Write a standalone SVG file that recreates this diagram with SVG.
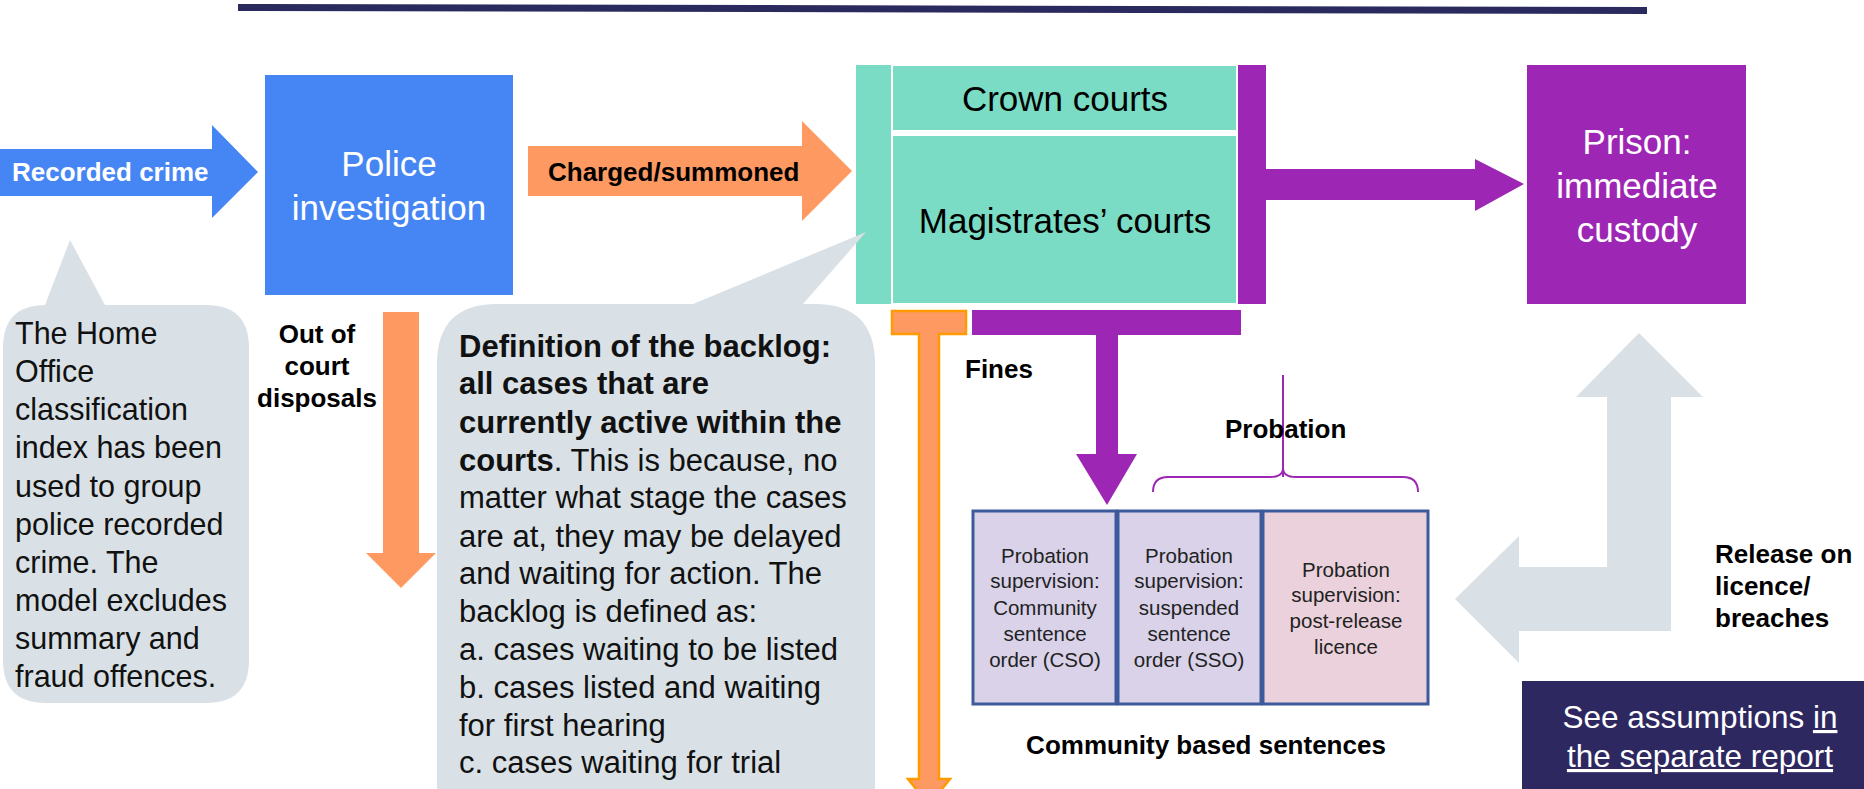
<svg xmlns="http://www.w3.org/2000/svg" width="1864" height="789" viewBox="0 0 1864 789">
<style>
text{font-family:"Liberation Sans",Arial,sans-serif;}
.b{font-weight:bold;font-size:26px;fill:#000;}
.big{font-size:35px;}
.w{fill:#fff;}
.note{font-size:30.5px;fill:#111;}
.bk{font-size:31px;fill:#111;}
.sm{font-size:20.5px;fill:#222;text-anchor:middle;}
.teal{fill:#7adcc4;}
.purple{fill:#9d27b4;}
.orange{fill:#fe9961;}
.grey{fill:#d9e1e6;}
.cbox{stroke:#3d5b9a;stroke-width:3;}
</style>
<rect width="1864" height="789" fill="#fff"/>
<polygon points="238,4 1647,7 1647,14 238,11" fill="#2b2a5f"/>

<g id="connectors">
  <g id="recorded-crime">
    <polygon points="0,149 212,149 212,125 258,172 212,218 212,196 0,196" fill="#4686f4"/>
    <text class="b w" x="12" y="181">Recorded crime</text>
  </g>
  <g id="charged">
    <polygon class="orange" points="528,146 802,146 802,121 852,171 802,221 802,196 528,196"/>
    <text class="b" x="548" y="181">Charged/summoned</text>
  </g>
  <g id="out-of-court">
    <polygon class="orange" points="383,312 419,312 419,553 436,553 401,588 366,553 383,553"/>
    <text class="b" text-anchor="middle" x="317" y="343">Out of</text>
    <text class="b" text-anchor="middle" x="317" y="375">court</text>
    <text class="b" text-anchor="middle" x="317" y="407">disposals</text>
  </g>
  <g id="fines">
    <polygon points="892,311 966,311 966,334 939,334 939,779 950,779 929,805 908,779 919,779 919,334 892,334 892,311" fill="#fe9961" stroke="#ff9a00" stroke-width="2.5"/>
    <text class="b" x="965" y="378">Fines</text>
  </g>
  <g id="to-community">
    <polygon class="purple" points="972,310 1241,310 1241,335 1118,335 1118,454 1137,454 1107,505 1076,454 1096,454 1096,335 972,335"/>
  </g>
  <g id="to-prison">
    <rect class="purple" x="1238" y="65" width="28" height="239"/>
    <polygon class="purple" points="1266,169 1475,169 1475,159 1524,184 1475,211 1475,200 1266,200"/>
  </g>
  <g id="release">
    <polygon class="grey" points="1639,333 1703,397 1671,397 1671,631 1519,631 1519,663 1455,599 1519,536 1519,567 1607,567 1607,397 1576,397"/>
    <text class="b" x="1715" y="563">Release on</text>
    <text class="b" x="1715" y="595">licence/</text>
    <text class="b" x="1715" y="627">breaches</text>
  </g>
  <g id="probation-brace">
    <path d="M1283,375 V477 M1153,492 Q1153,477 1168,477 L1270,477 Q1283,477 1283,468 Q1283,477 1296,477 L1403,477 Q1418,477 1418,492" fill="none" stroke="#9d27b4" stroke-width="2"/>
    <text class="b" x="1225" y="438">Probation</text>
  </g>
</g>

<g id="police">
  <rect x="265" y="75" width="248" height="220" fill="#4686f4"/>
  <text class="big w" text-anchor="middle" x="389" y="176">Police</text>
  <text class="big w" text-anchor="middle" x="389" y="220">investigation</text>
</g>

<g id="courts">
  <rect class="teal" x="856" y="65" width="35" height="239"/>
  <rect class="teal" x="893" y="66" width="343" height="64"/>
  <rect class="teal" x="893" y="136" width="343" height="167"/>
  <text class="big" text-anchor="middle" x="1065" y="111">Crown courts</text>
  <text class="big" text-anchor="middle" x="1065" y="233">Magistrates’ courts</text>
</g>

<g id="prison">
  <rect class="purple" x="1527" y="65" width="219" height="239"/>
  <text class="big w" text-anchor="middle" x="1637" y="154">Prison:</text>
  <text class="big w" text-anchor="middle" x="1637" y="198">immediate</text>
  <text class="big w" text-anchor="middle" x="1637" y="242">custody</text>
</g>

<g id="home-office-note">
  <path class="grey" d="M48,305 L45,305 L70,240 L105,305 L206,305 Q249,305 249,348 L249,660 Q249,703 206,703 L46,703 Q3,703 3,660 L3,348 Q3,305 46,305 Z"/>
  <text class="note" x="15" y="344">The Home</text>
  <text class="note" x="15" y="382">Office</text>
  <text class="note" x="15" y="420">classification</text>
  <text class="note" x="15" y="458">index has been</text>
  <text class="note" x="15" y="497">used to group</text>
  <text class="note" x="15" y="535">police recorded</text>
  <text class="note" x="15" y="573">crime. The</text>
  <text class="note" x="15" y="611">model excludes</text>
  <text class="note" x="15" y="649">summary and</text>
  <text class="note" x="15" y="687">fraud offences.</text>
</g>

<g id="backlog-note">
  <path class="grey" d="M693,304 L866,232 L803,304 L815,304 Q875,304 875,364 L875,830 L437,830 L437,364 Q437,304 497,304 Z"/>
  <text class="bk" x="459" y="357" font-weight="bold">Definition of the backlog:</text>
  <text class="bk" x="459" y="394" font-weight="bold">all cases that are</text>
  <text class="bk" x="459" y="433" font-weight="bold">currently active within the</text>
  <text class="bk" x="459" y="471"><tspan font-weight="bold">courts</tspan>. This is because, no</text>
  <text class="bk" x="459" y="508">matter what stage the cases</text>
  <text class="bk" x="459" y="547">are at, they may be delayed</text>
  <text class="bk" x="459" y="584">and waiting for action. The</text>
  <text class="bk" x="459" y="622">backlog is defined as:</text>
  <text class="bk" x="459" y="660">a. cases waiting to be listed</text>
  <text class="bk" x="459" y="698">b. cases listed and waiting</text>
  <text class="bk" x="459" y="736">for first hearing</text>
  <text class="bk" x="459" y="773">c. cases waiting for trial</text>
</g>

<g id="community-sentences">
  <rect class="cbox" x="973" y="511" width="143" height="193" fill="#d9d2e9"/>
  <rect class="cbox" x="1118" y="511" width="143" height="193" fill="#d9d2e9"/>
  <rect class="cbox" x="1263" y="511" width="165" height="193" fill="#ead1dc"/>
  <text class="sm" x="1045" y="563">Probation</text>
  <text class="sm" x="1045" y="588">supervision:</text>
  <text class="sm" x="1045" y="615">Community</text>
  <text class="sm" x="1045" y="641">sentence</text>
  <text class="sm" x="1045" y="667">order (CSO)</text>
  <text class="sm" x="1189" y="563">Probation</text>
  <text class="sm" x="1189" y="588">supervision:</text>
  <text class="sm" x="1189" y="615">suspended</text>
  <text class="sm" x="1189" y="641">sentence</text>
  <text class="sm" x="1189" y="667">order (SSO)</text>
  <text class="sm" x="1346" y="577">Probation</text>
  <text class="sm" x="1346" y="602">supervision:</text>
  <text class="sm" x="1346" y="628">post-release</text>
  <text class="sm" x="1346" y="654">licence</text>
  <text class="b" text-anchor="middle" x="1206" y="754">Community based sentences</text>
</g>

<g id="assumptions">
  <rect x="1522" y="681" width="342" height="108" fill="#2d2860"/>
  <text class="w" font-size="31.5" text-anchor="middle" x="1700" y="728">See assumptions <tspan text-decoration="underline">in</tspan></text>
  <text class="w" font-size="31.5" text-anchor="middle" x="1700" y="767" text-decoration="underline">the separate report</text>
</g>
</svg>
